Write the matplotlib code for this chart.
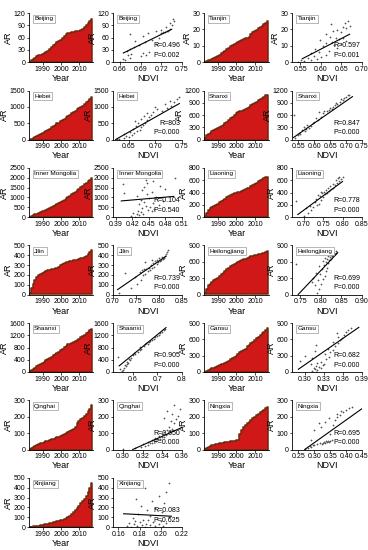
"""Cumulative AR by province and its relation to NDVI (area + scatter pairs)."""

import matplotlib

matplotlib.use("Agg")
import matplotlib.pyplot as plt  # noqa: E402
import numpy as np  # noqa: E402

plt.rcParams["font.family"] = ["Liberation Sans", "DejaVu Sans"]

YEARS = list(range(1983, 2018))
YEAR_TICKS = [1990, 2000, 2010]

BEIJING_AR = [1, 4, 8, 11, 14, 16, 18, 20, 22, 24, 28, 33, 37, 41, 45, 49, 52, 55, 59, 63,
              68, 71, 72, 73, 74, 75, 76, 77, 78, 82, 86, 91, 95, 100, 105]
BEIJING_NDVI = [0.660, 0.668, 0.664, 0.675, 0.690, 0.672, 0.698, 0.676, 0.694, 0.702, 0.670, 0.674,
                0.680, 0.688, 0.712, 0.697, 0.682, 0.706, 0.716, 0.693, 0.675, 0.720, 0.701, 0.722,
                0.726, 0.728, 0.713, 0.730, 0.719, 0.732, 0.727, 0.735, 0.733, 0.739, 0.737]

TIANJIN_AR = [0.2, 0.5, 1, 1.5, 2, 2.6, 3.2, 3.8, 4.5, 5.3, 6.1, 7.0, 7.8, 8.7, 9.5, 10.3, 11.0,
              11.8, 12.5, 13.0, 13.5, 14.0, 14.5, 14.8, 15.2, 17.0, 18.2, 19.0, 19.8, 20.6, 21.5,
              22.3, 23.1, 24.0, 25.0]
TIANJIN_NDVI = [0.545, 0.560, 0.575, 0.552, 0.590, 0.568, 0.600, 0.583, 0.612, 0.575, 0.596, 0.620,
                0.585, 0.640, 0.605, 0.632, 0.650, 0.612, 0.628, 0.660, 0.598, 0.645, 0.638, 0.655,
                0.622, 0.612, 0.648, 0.630, 0.640, 0.662, 0.655, 0.670, 0.624, 0.658, 0.665]

HEBEI_AR = [10, 30, 60, 90, 120, 150, 180, 210, 240, 270, 300, 330, 370, 410, 450, 490, 520, 560,
            600, 640, 680, 720, 760, 800, 840, 880, 920, 960, 1000, 1040, 1090, 1140, 1190, 1240, 1300]
HEBEI_NDVI = [0.628, 0.632, 0.640, 0.650, 0.645, 0.655, 0.640, 0.660, 0.652, 0.666, 0.670, 0.658,
              0.672, 0.664, 0.676, 0.668, 0.680, 0.662, 0.684, 0.672, 0.688, 0.678, 0.692, 0.684,
              0.696, 0.712, 0.702, 0.722, 0.700, 0.730, 0.718, 0.735, 0.728, 0.740, 0.745]

SHANXI_AR = [30, 100, 140, 170, 200, 225, 250, 270, 300, 330, 360, 400, 440, 480, 520, 560, 600,
             640, 670, 690, 705, 720, 735, 760, 800, 840, 870, 900, 930, 960, 990, 1020, 1050, 1080, 1100]
SHANXI_NDVI = [0.540, 0.548, 0.556, 0.552, 0.570, 0.560, 0.575, 0.582, 0.568, 0.590, 0.578, 0.596,
               0.600, 0.612, 0.605, 0.620, 0.535, 0.628, 0.615, 0.640, 0.632, 0.645, 0.655, 0.650,
               0.660, 0.665, 0.672, 0.668, 0.680, 0.690, 0.685, 0.695, 0.700, 0.705, 0.710]

NEIMENG_AR = [10, 50, 90, 130, 170, 210, 250, 290, 330, 370, 410, 450, 500, 550, 600, 650, 700, 760,
              820, 880, 950, 1020, 1090, 1160, 1230, 1300, 1370, 1440, 1510, 1590, 1670, 1750, 1830,
              1900, 1980]
NEIMENG_NDVI = [0.425, 0.418, 0.432, 0.428, 0.440, 0.422, 0.436, 0.455, 0.430, 0.448, 0.460, 0.438,
                0.452, 0.445, 0.468, 0.433, 0.458, 0.442, 0.475, 0.436, 0.450, 0.462, 0.428, 0.446,
                0.405, 0.455, 0.437, 0.480, 0.442, 0.470, 0.403, 0.447, 0.458, 0.445, 0.498]

LIAONING_AR = [20, 70, 120, 140, 160, 180, 200, 220, 240, 260, 280, 300, 320, 340, 360, 375, 385,
               395, 405, 415, 425, 440, 455, 470, 480, 500, 520, 540, 560, 580, 600, 620, 635, 650, 660]
LIAONING_NDVI = [0.700, 0.712, 0.720, 0.705, 0.725, 0.715, 0.735, 0.740, 0.728, 0.680, 0.745, 0.732,
                 0.750, 0.742, 0.738, 0.755, 0.748, 0.760, 0.752, 0.745, 0.765, 0.758, 0.770, 0.762,
                 0.775, 0.768, 0.780, 0.776, 0.785, 0.790, 0.782, 0.795, 0.788, 0.800, 0.792]

JILIN_AR = [20, 70, 110, 150, 175, 195, 210, 220, 230, 238, 245, 252, 258, 263, 268, 275, 285, 300,
            315, 322, 328, 333, 338, 343, 348, 352, 357, 362, 368, 375, 382, 392, 410, 430, 450]
JILIN_NDVI = [0.712, 0.740, 0.752, 0.760, 0.748, 0.765, 0.770, 0.726, 0.758, 0.775, 0.762, 0.780,
              0.768, 0.772, 0.785, 0.778, 0.790, 0.782, 0.795, 0.788, 0.770, 0.798, 0.792, 0.802,
              0.785, 0.805, 0.796, 0.808, 0.800, 0.810, 0.806, 0.812, 0.815, 0.818, 0.820]

HEILONG_AR = [20, 110, 170, 200, 230, 260, 285, 310, 340, 370, 400, 430, 460, 490, 515, 540, 560,
              580, 600, 615, 630, 645, 660, 675, 690, 700, 710, 720, 730, 740, 750, 760, 770, 780, 790]
HEILONG_NDVI = [0.790, 0.795, 0.785, 0.800, 0.778, 0.792, 0.805, 0.782, 0.810, 0.798, 0.788, 0.812,
                0.802, 0.815, 0.795, 0.808, 0.740, 0.818, 0.812, 0.806, 0.820, 0.815, 0.825, 0.810,
                0.822, 0.828, 0.818, 0.830, 0.825, 0.835, 0.828, 0.838, 0.832, 0.840, 0.836]

SHAANXI_AR = [20, 60, 100, 140, 180, 220, 260, 300, 340, 380, 420, 460, 500, 540, 580, 620, 660,
              710, 760, 810, 860, 900, 930, 960, 990, 1020, 1050, 1090, 1130, 1170, 1210, 1260, 1310,
              1360, 1400]
SHAANXI_NDVI = [0.555, 0.560, 0.548, 0.565, 0.572, 0.568, 0.578, 0.582, 0.575, 0.590, 0.585, 0.595,
                0.540, 0.600, 0.610, 0.605, 0.620, 0.628, 0.635, 0.630, 0.645, 0.650, 0.660, 0.655,
                0.668, 0.672, 0.680, 0.685, 0.690, 0.698, 0.705, 0.712, 0.718, 0.725, 0.730]

GANSU_AR = [5, 20, 35, 50, 65, 80, 95, 110, 125, 140, 155, 170, 190, 210, 230, 250, 270, 300, 330,
            360, 380, 400, 430, 470, 500, 530, 560, 590, 620, 650, 680, 710, 740, 770, 800]
GANSU_NDVI = [0.318, 0.312, 0.320, 0.316, 0.325, 0.314, 0.322, 0.318, 0.328, 0.310, 0.330, 0.320,
              0.326, 0.292, 0.334, 0.312, 0.338, 0.300, 0.332, 0.340, 0.316, 0.344, 0.336, 0.348,
              0.318, 0.352, 0.345, 0.355, 0.358, 0.352, 0.362, 0.350, 0.365, 0.368, 0.372]

QINGHAI_AR = [2, 8, 14, 20, 26, 32, 38, 42, 46, 50, 54, 58, 62, 66, 70, 74, 79, 84, 90, 96, 102, 108,
              114, 120, 128, 140, 160, 175, 185, 195, 205, 220, 235, 250, 270]
QINGHAI_NDVI = [0.300, 0.312, 0.318, 0.322, 0.325, 0.320, 0.328, 0.330, 0.326, 0.332, 0.334, 0.330,
                0.336, 0.338, 0.333, 0.340, 0.342, 0.337, 0.344, 0.340, 0.346, 0.342, 0.348, 0.345,
                0.350, 0.347, 0.352, 0.349, 0.354, 0.342, 0.356, 0.350, 0.345, 0.358, 0.352]

NINGXIA_AR = [2, 8, 14, 20, 25, 28, 31, 34, 37, 40, 42, 44, 46, 48, 50, 52, 54, 56, 60, 95, 120, 140,
              150, 160, 170, 180, 190, 200, 210, 220, 228, 236, 244, 252, 260]
NINGXIA_NDVI = [0.272, 0.280, 0.290, 0.285, 0.300, 0.295, 0.310, 0.325, 0.318, 0.335, 0.328, 0.340,
                0.332, 0.345, 0.338, 0.350, 0.342, 0.290, 0.355, 0.348, 0.300, 0.320, 0.360, 0.315,
                0.335, 0.365, 0.345, 0.370, 0.380, 0.372, 0.390, 0.385, 0.400, 0.410, 0.420]

XINJIANG_AR = [1, 3, 6, 9, 12, 15, 18, 22, 26, 30, 34, 38, 42, 47, 52, 57, 62, 68, 75, 83, 92, 102,
               115, 130, 150, 170, 190, 215, 240, 265, 290, 320, 360, 400, 450]
XINJIANG_NDVI = [0.172, 0.185, 0.168, 0.195, 0.178, 0.202, 0.182, 0.190, 0.175, 0.198, 0.186, 0.170,
                 0.205, 0.180, 0.193, 0.176, 0.200, 0.188, 0.183, 0.196, 0.174, 0.208, 0.190, 0.179,
                 0.201, 0.187, 0.195, 0.181, 0.203, 0.192, 0.177, 0.198, 0.205, 0.185, 0.208]

# fitted regression lines (NDVI ends, AR ends)
FIT_NDVI = [[0.665, 0.735], [0.555, 0.67], [0.625, 0.745], [0.535, 0.72], [0.40, 0.495],
            [0.685, 0.80], [0.71, 0.815], [0.745, 0.84], [0.545, 0.735], [0.29, 0.385],
            [0.31, 0.36], [0.27, 0.45], [0.165, 0.21]]
FIT_AR = [[22, 80], [2, 17], [0, 1100], [50, 1050], [820, 1050], [40, 580], [50, 390], [0, 760],
          [200, 1450], [50, 820], [0, 135], [0, 250], [135, 110]]

NAMES = ["Beijing", "Tianjin", "Hebei", "Shanxi", "Inner Mongolia", "Liaoning", "Jilin",
         "Heilongjiang", "Shaanxi", "Gansu", "Qinghai", "Ningxia", "Xinjiang"]
R_TEXT = ["R=0.496", "R=0.597", "R=803", "R=0.847", "R=0.104", "R=0.778", "R=0.739", "R=0.699",
          "R=0.905", "R=0.682", "R=0.650", "R=0.695", "R=0.083"]
P_TEXT = ["P=0.002", "P=0.001", "P=0.000", "P=0.000", "P=0.540", "P=0.000", "P=0.000", "P=0.000",
          "P=0.000", "P=0.000", "P=0.000", "P=0.000", "P=0.625"]
AR_TICKS = [[0, 30, 60, 90, 120], [0, 10, 20, 30], [0, 500, 1000, 1500], [0, 300, 600, 900, 1200],
            [0, 500, 1000, 1500, 2000, 2500], [0, 200, 400, 600, 800], [0, 100, 200, 300, 400, 500],
            [0, 300, 600, 900], [0, 400, 800, 1200, 1600], [0, 300, 600, 900], [0, 100, 200, 300],
            [0, 100, 200, 300], [0, 100, 200, 300, 400, 500]]
NDVI_TICKS = [["0.66", "0.69", "0.72", "0.75"], ["0.55", "0.60", "0.65", "0.70"],
              ["0.65", "0.70", "0.75"], ["0.55", "0.60", "0.65", "0.70", "0.75"],
              ["0.39", "0.42", "0.45", "0.48", "0.51"], ["0.70", "0.75", "0.80", "0.85"],
              ["0.70", "0.75", "0.80", "0.85"], ["0.75", "0.80", "0.85", "0.90"],
              ["0.6", "0.7", "0.8"], ["0.30", "0.33", "0.36", "0.39"],
              ["0.30", "0.32", "0.34", "0.36"], ["0.25", "0.30", "0.35", "0.40", "0.45"],
              ["0.16", "0.18", "0.20", "0.22"]]
NDVI_XLIM = [(0.65, 0.75), (0.53, 0.70), (0.62, 0.75), (0.53, 0.75), (0.385, 0.51), (0.67, 0.85),
             (0.70, 0.85), (0.73, 0.90), (0.52, 0.80), (0.28, 0.39), (0.29, 0.36), (0.23, 0.45),
             (0.155, 0.22)]

AR_SERIES = [BEIJING_AR, TIANJIN_AR, HEBEI_AR, SHANXI_AR, NEIMENG_AR, LIAONING_AR, JILIN_AR,
             HEILONG_AR, SHAANXI_AR, GANSU_AR, QINGHAI_AR, NINGXIA_AR, XINJIANG_AR]
NDVI_SERIES = [BEIJING_NDVI, TIANJIN_NDVI, HEBEI_NDVI, SHANXI_NDVI, NEIMENG_NDVI, LIAONING_NDVI,
               JILIN_NDVI, HEILONG_NDVI, SHAANXI_NDVI, GANSU_NDVI, QINGHAI_NDVI, NINGXIA_NDVI,
               XINJIANG_NDVI]

FIG_W, FIG_H = 368, 550
COL_PX = [(29, 93), (113, 182), (204, 269), (292, 362)]
ROW_TOP, ROW_STEP, AX_H = 13, 77.5, 49

AREA_RED = "#d01818"
AREA_BROWN = "#6e2a0e"


def axes_at(fig, col, row):
    x0, x1 = COL_PX[col]
    top = ROW_TOP + row * ROW_STEP
    return fig.add_axes([x0 / FIG_W, 1 - (top + AX_H) / FIG_H, (x1 - x0) / FIG_W, AX_H / FIG_H])


def style(ax):
    for side in ("top", "right"):
        ax.spines[side].set_visible(False)
    for side in ("left", "bottom"):
        ax.spines[side].set_linewidth(0.6)
    ax.tick_params(direction="out", length=1.8, width=0.5, pad=0.8, labelsize=5)


def tag(ax, name):
    ax.text(0.08, 0.88, name, transform=ax.transAxes, fontsize=4.6, va="center", ha="left",
            bbox=dict(boxstyle="square,pad=0.25", facecolor="white", edgecolor="#9a9a9a", linewidth=0.5))


def main():
    fig = plt.figure(figsize=(FIG_W / 100, FIG_H / 100), dpi=100)
    for i, name in enumerate(NAMES):
        row, pair = divmod(i, 2)
        ar = np.array(AR_SERIES[i])
        ndvi = np.array(NDVI_SERIES[i])
        yt = AR_TICKS[i]

        ax = axes_at(fig, pair * 2, row)
        ax.fill_between(YEARS, ar, step="mid", facecolor=AREA_RED, edgecolor=AREA_BROWN, linewidth=1.1)
        ax.set_xlim(1982.5, 2017.5)
        ax.set_ylim(0, yt[-1])
        ax.set_xticks(YEAR_TICKS)
        ax.set_yticks(yt)
        ax.set_xlabel("Year", fontsize=6.5, labelpad=1)
        ax.set_ylabel("AR", fontsize=6.5, labelpad=0.3)
        style(ax)
        tag(ax, name)

        ax = axes_at(fig, pair * 2 + 1, row)
        ax.scatter(ndvi, ar, marker="+", s=4, color="#555555", linewidths=0.5)
        ax.plot(FIT_NDVI[i], FIT_AR[i], color="black", linewidth=0.8)
        ax.set_xlim(*NDVI_XLIM[i])
        ax.set_ylim(0, yt[-1])
        xt = NDVI_TICKS[i]
        ax.set_xticks([float(t) for t in xt])
        ax.set_xticklabels(xt)
        ax.set_yticks(yt)
        ax.set_xlabel("NDVI", fontsize=6.5, labelpad=1)
        ax.set_ylabel("AR", fontsize=6.5, labelpad=0.3)
        style(ax)
        tag(ax, name)
        ax.text(0.97, 0.33, R_TEXT[i], transform=ax.transAxes, fontsize=5, ha="right", va="center")
        ax.text(0.97, 0.14, P_TEXT[i], transform=ax.transAxes, fontsize=5, ha="right", va="center")

    fig.savefig("out.png", dpi=100)
    plt.close(fig)


if __name__ == "__main__":
    main()
